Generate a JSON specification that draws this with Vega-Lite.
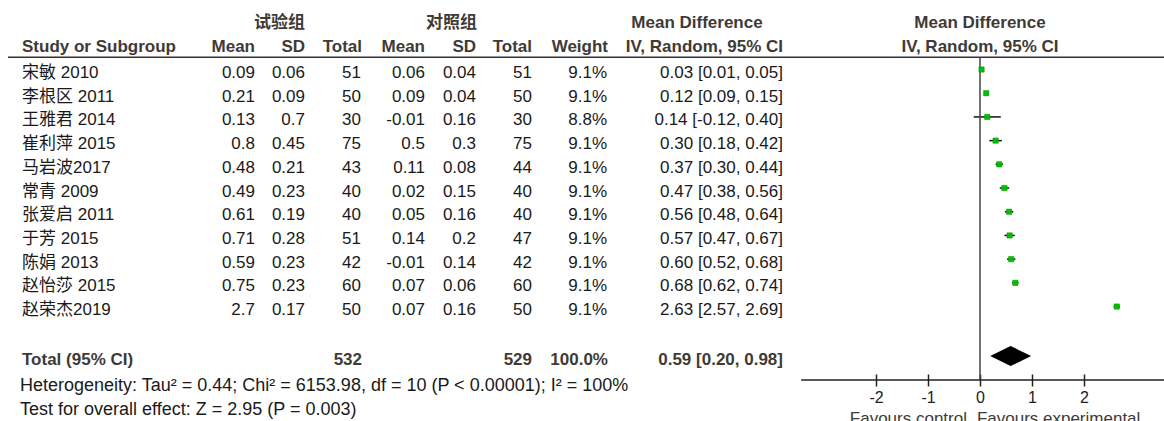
{
  "$schema": "https://vega.github.io/schema/vega-lite/v6.json",
  "padding": 0,
  "spacing": 0,
  "bounds": "flush",
  "data": {"values": [{}]},
  "datasets": {
    "studies": [
      {"row": 1, "study": "宋敏 2010", "exp_mean": 0.09, "exp_sd": 0.06, "exp_n": 51, "ctrl_mean": 0.06, "ctrl_sd": 0.04, "ctrl_n": 51, "weight": 0.091, "md": 0.03, "lo": 0.01, "hi": 0.05, "ci": "0.03 [0.01, 0.05]"},
      {"row": 2, "study": "李根区 2011", "exp_mean": 0.21, "exp_sd": 0.09, "exp_n": 50, "ctrl_mean": 0.09, "ctrl_sd": 0.04, "ctrl_n": 50, "weight": 0.091, "md": 0.12, "lo": 0.09, "hi": 0.15, "ci": "0.12 [0.09, 0.15]"},
      {"row": 3, "study": "王雅君 2014", "exp_mean": 0.13, "exp_sd": 0.7, "exp_n": 30, "ctrl_mean": -0.01, "ctrl_sd": 0.16, "ctrl_n": 30, "weight": 0.088, "md": 0.14, "lo": -0.12, "hi": 0.40, "ci": "0.14 [-0.12, 0.40]"},
      {"row": 4, "study": "崔利萍 2015", "exp_mean": 0.8, "exp_sd": 0.45, "exp_n": 75, "ctrl_mean": 0.5, "ctrl_sd": 0.3, "ctrl_n": 75, "weight": 0.091, "md": 0.30, "lo": 0.18, "hi": 0.42, "ci": "0.30 [0.18, 0.42]"},
      {"row": 5, "study": "马岩波2017", "exp_mean": 0.48, "exp_sd": 0.21, "exp_n": 43, "ctrl_mean": 0.11, "ctrl_sd": 0.08, "ctrl_n": 44, "weight": 0.091, "md": 0.37, "lo": 0.30, "hi": 0.44, "ci": "0.37 [0.30, 0.44]"},
      {"row": 6, "study": "常青 2009", "exp_mean": 0.49, "exp_sd": 0.23, "exp_n": 40, "ctrl_mean": 0.02, "ctrl_sd": 0.15, "ctrl_n": 40, "weight": 0.091, "md": 0.47, "lo": 0.38, "hi": 0.56, "ci": "0.47 [0.38, 0.56]"},
      {"row": 7, "study": "张爱启 2011", "exp_mean": 0.61, "exp_sd": 0.19, "exp_n": 40, "ctrl_mean": 0.05, "ctrl_sd": 0.16, "ctrl_n": 40, "weight": 0.091, "md": 0.56, "lo": 0.48, "hi": 0.64, "ci": "0.56 [0.48, 0.64]"},
      {"row": 8, "study": "于芳 2015", "exp_mean": 0.71, "exp_sd": 0.28, "exp_n": 51, "ctrl_mean": 0.14, "ctrl_sd": 0.2, "ctrl_n": 47, "weight": 0.091, "md": 0.57, "lo": 0.47, "hi": 0.67, "ci": "0.57 [0.47, 0.67]"},
      {"row": 9, "study": "陈娟 2013", "exp_mean": 0.59, "exp_sd": 0.23, "exp_n": 42, "ctrl_mean": -0.01, "ctrl_sd": 0.14, "ctrl_n": 42, "weight": 0.091, "md": 0.60, "lo": 0.52, "hi": 0.68, "ci": "0.60 [0.52, 0.68]"},
      {"row": 10, "study": "赵怡莎 2015", "exp_mean": 0.75, "exp_sd": 0.23, "exp_n": 60, "ctrl_mean": 0.07, "ctrl_sd": 0.06, "ctrl_n": 60, "weight": 0.091, "md": 0.68, "lo": 0.62, "hi": 0.74, "ci": "0.68 [0.62, 0.74]"},
      {"row": 11, "study": "赵荣杰2019", "exp_mean": 2.7, "exp_sd": 0.17, "exp_n": 50, "ctrl_mean": 0.07, "ctrl_sd": 0.16, "ctrl_n": 50, "weight": 0.091, "md": 2.63, "lo": 2.57, "hi": 2.69, "ci": "2.63 [2.57, 2.69]"}
    ],
    "total": [
      {"label": "Total (95% CI)", "n_exp": 532, "n_ctrl": 529, "weight": 1.0, "md": 0.59, "lo": 0.20, "hi": 0.98, "ci": "0.59 [0.20, 0.98]"}
    ]
  },
  "config": {
    "view": {"stroke": null},
    "text": {"font": "Liberation Sans, Noto Sans CJK SC", "fontSize": 17, "baseline": "middle", "fill": "#1a1a1a"}
  },
  "hconcat": [
    {
      "width": 800,
      "height": 421,
      "layer": [
        {"mark": {"type": "rule", "stroke": "#333333", "strokeWidth": 1.5},
         "encoding": {"x": {"datum": 8, "type": "quantitative", "scale": {"domain": [0, 800], "nice": false, "zero": false}, "axis": null}, "x2": {"datum": 800},
                      "y": {"datum": 0.33, "type": "quantitative", "scale": {"domain": [-2.08, 15.68], "nice": false, "zero": false, "reverse": true}, "axis": null}}},
        {"mark": {"type": "text", "text": "试验组", "align": "right", "fontWeight": "bold", "fill": "#403a36"},
         "encoding": {"x": {"datum": 305, "type": "quantitative", "axis": null}, "y": {"datum": -1.11, "type": "quantitative", "axis": null}}},
        {"mark": {"type": "text", "text": "对照组", "align": "right", "fontWeight": "bold", "fill": "#403a36"},
         "encoding": {"x": {"datum": 477, "type": "quantitative", "axis": null}, "y": {"datum": -1.11, "type": "quantitative", "axis": null}}},
        {"mark": {"type": "text", "text": "Mean Difference", "align": "center", "fontWeight": "bold", "fill": "#403a36"},
         "encoding": {"x": {"datum": 697, "type": "quantitative", "axis": null}, "y": {"datum": -1.11, "type": "quantitative", "axis": null}}},
        {"mark": {"type": "text", "text": "Study or Subgroup", "align": "left", "fontWeight": "bold", "fill": "#403a36"},
         "encoding": {"x": {"datum": 22, "type": "quantitative", "axis": null}, "y": {"datum": -0.1, "type": "quantitative", "axis": null}}},
        {"mark": {"type": "text", "text": "Mean", "align": "right", "fontWeight": "bold", "fill": "#403a36"},
         "encoding": {"x": {"datum": 255, "type": "quantitative", "axis": null}, "y": {"datum": -0.1, "type": "quantitative", "axis": null}}},
        {"mark": {"type": "text", "text": "SD", "align": "right", "fontWeight": "bold", "fill": "#403a36"},
         "encoding": {"x": {"datum": 305, "type": "quantitative", "axis": null}, "y": {"datum": -0.1, "type": "quantitative", "axis": null}}},
        {"mark": {"type": "text", "text": "Total", "align": "right", "fontWeight": "bold", "fill": "#403a36"},
         "encoding": {"x": {"datum": 362, "type": "quantitative", "axis": null}, "y": {"datum": -0.1, "type": "quantitative", "axis": null}}},
        {"mark": {"type": "text", "text": "Mean", "align": "right", "fontWeight": "bold", "fill": "#403a36"},
         "encoding": {"x": {"datum": 425, "type": "quantitative", "axis": null}, "y": {"datum": -0.1, "type": "quantitative", "axis": null}}},
        {"mark": {"type": "text", "text": "SD", "align": "right", "fontWeight": "bold", "fill": "#403a36"},
         "encoding": {"x": {"datum": 476, "type": "quantitative", "axis": null}, "y": {"datum": -0.1, "type": "quantitative", "axis": null}}},
        {"mark": {"type": "text", "text": "Total", "align": "right", "fontWeight": "bold", "fill": "#403a36"},
         "encoding": {"x": {"datum": 532, "type": "quantitative", "axis": null}, "y": {"datum": -0.1, "type": "quantitative", "axis": null}}},
        {"mark": {"type": "text", "text": "Weight", "align": "right", "fontWeight": "bold", "fill": "#403a36"},
         "encoding": {"x": {"datum": 608, "type": "quantitative", "axis": null}, "y": {"datum": -0.1, "type": "quantitative", "axis": null}}},
        {"mark": {"type": "text", "text": "IV, Random, 95% CI", "align": "right", "fontWeight": "bold", "fill": "#403a36"},
         "encoding": {"x": {"datum": 783, "type": "quantitative", "axis": null}, "y": {"datum": -0.1, "type": "quantitative", "axis": null}}},

        {"data": {"name": "studies"}, "mark": {"type": "text", "align": "left"},
         "encoding": {"x": {"datum": 22, "type": "quantitative", "axis": null}, "y": {"field": "row", "type": "quantitative", "axis": null}, "text": {"field": "study", "type": "nominal"}}},
        {"data": {"name": "studies"}, "mark": {"type": "text", "align": "right"},
         "encoding": {"x": {"datum": 255, "type": "quantitative", "axis": null}, "y": {"field": "row", "type": "quantitative", "axis": null}, "text": {"field": "exp_mean", "type": "nominal"}}},
        {"data": {"name": "studies"}, "mark": {"type": "text", "align": "right"},
         "encoding": {"x": {"datum": 305, "type": "quantitative", "axis": null}, "y": {"field": "row", "type": "quantitative", "axis": null}, "text": {"field": "exp_sd", "type": "nominal"}}},
        {"data": {"name": "studies"}, "mark": {"type": "text", "align": "right"},
         "encoding": {"x": {"datum": 361, "type": "quantitative", "axis": null}, "y": {"field": "row", "type": "quantitative", "axis": null}, "text": {"field": "exp_n", "type": "nominal"}}},
        {"data": {"name": "studies"}, "mark": {"type": "text", "align": "right"},
         "encoding": {"x": {"datum": 425, "type": "quantitative", "axis": null}, "y": {"field": "row", "type": "quantitative", "axis": null}, "text": {"field": "ctrl_mean", "type": "nominal"}}},
        {"data": {"name": "studies"}, "mark": {"type": "text", "align": "right"},
         "encoding": {"x": {"datum": 476, "type": "quantitative", "axis": null}, "y": {"field": "row", "type": "quantitative", "axis": null}, "text": {"field": "ctrl_sd", "type": "nominal"}}},
        {"data": {"name": "studies"}, "mark": {"type": "text", "align": "right"},
         "encoding": {"x": {"datum": 532, "type": "quantitative", "axis": null}, "y": {"field": "row", "type": "quantitative", "axis": null}, "text": {"field": "ctrl_n", "type": "nominal"}}},
        {"data": {"name": "studies"}, "mark": {"type": "text", "align": "right"},
         "encoding": {"x": {"datum": 607, "type": "quantitative", "axis": null}, "y": {"field": "row", "type": "quantitative", "axis": null}, "text": {"field": "weight", "type": "quantitative", "format": ".1%"}}},
        {"data": {"name": "studies"}, "mark": {"type": "text", "align": "right"},
         "encoding": {"x": {"datum": 783, "type": "quantitative", "axis": null}, "y": {"field": "row", "type": "quantitative", "axis": null}, "text": {"field": "ci", "type": "nominal"}}},

        {"data": {"name": "total"}, "mark": {"type": "text", "align": "left", "fontWeight": "bold", "fill": "#403a36"},
         "encoding": {"x": {"datum": 22, "type": "quantitative", "axis": null}, "y": {"datum": 13.11, "type": "quantitative", "axis": null}, "text": {"field": "label", "type": "nominal"}}},
        {"data": {"name": "total"}, "mark": {"type": "text", "align": "right", "fontWeight": "bold", "fill": "#403a36"},
         "encoding": {"x": {"datum": 362, "type": "quantitative", "axis": null}, "y": {"datum": 13.11, "type": "quantitative", "axis": null}, "text": {"field": "n_exp", "type": "nominal"}}},
        {"data": {"name": "total"}, "mark": {"type": "text", "align": "right", "fontWeight": "bold", "fill": "#403a36"},
         "encoding": {"x": {"datum": 532, "type": "quantitative", "axis": null}, "y": {"datum": 13.11, "type": "quantitative", "axis": null}, "text": {"field": "n_ctrl", "type": "nominal"}}},
        {"data": {"name": "total"}, "mark": {"type": "text", "align": "right", "fontWeight": "bold", "fill": "#403a36"},
         "encoding": {"x": {"datum": 608, "type": "quantitative", "axis": null}, "y": {"datum": 13.11, "type": "quantitative", "axis": null}, "text": {"field": "weight", "type": "quantitative", "format": ".1%"}}},
        {"data": {"name": "total"}, "mark": {"type": "text", "align": "right", "fontWeight": "bold", "fill": "#403a36"},
         "encoding": {"x": {"datum": 783, "type": "quantitative", "axis": null}, "y": {"datum": 13.11, "type": "quantitative", "axis": null}, "text": {"field": "ci", "type": "nominal"}}},
        {"mark": {"type": "text", "text": "Heterogeneity: Tau² = 0.44; Chi² = 6153.98, df = 10 (P < 0.00001); I² = 100%", "align": "left", "fontSize": 18},
         "encoding": {"x": {"datum": 20, "type": "quantitative", "axis": null}, "y": {"datum": 14.2, "type": "quantitative", "axis": null}}},
        {"mark": {"type": "text", "text": "Test for overall effect: Z = 2.95 (P = 0.003)", "align": "left", "fontSize": 18},
         "encoding": {"x": {"datum": 20, "type": "quantitative", "axis": null}, "y": {"datum": 15.2, "type": "quantitative", "axis": null}}}
      ]
    },
    {
      "width": 364,
      "height": 421,
      "layer": [
        {"data": {"name": "studies"}, "mark": {"type": "rule", "stroke": "#111111", "strokeWidth": 1.5, "yOffset": -3.5},
         "encoding": {
           "x": {"field": "lo", "type": "quantitative", "scale": {"domain": [-3.4615, 3.5385], "nice": false, "zero": false},
                 "axis": {"values": [-2, -1, 0, 1, 2], "title": null, "domain": false, "grid": false, "offset": -47, "tickSize": 12, "tickColor": "#222222", "tickWidth": 1.5, "labelPadding": 3, "labelFontSize": 16, "labelFont": "Liberation Sans", "labelColor": "#222222", "labelExpr": "toString(datum.value)", "labelFlush": false, "labelOverlap": false}},
           "x2": {"field": "hi"},
           "y": {"field": "row", "type": "quantitative", "scale": {"domain": [-2.08, 15.68], "nice": false, "zero": false, "reverse": true}, "axis": null}}},
        {"mark": {"type": "rule", "stroke": "#333333", "strokeWidth": 1.5},
         "encoding": {"x": {"datum": -3.4615, "type": "quantitative"}, "x2": {"datum": 3.5385}, "y": {"datum": 0.33, "type": "quantitative", "axis": null}}},
        {"mark": {"type": "rule", "stroke": "#444444", "strokeWidth": 1.5},
         "encoding": {"x": {"datum": 0, "type": "quantitative"}, "y": {"datum": 0.33, "type": "quantitative", "axis": null}, "y2": {"datum": 13.95}}},
        {"mark": {"type": "rule", "stroke": "#222222", "strokeWidth": 1.5},
         "encoding": {"x": {"datum": -3.44, "type": "quantitative"}, "x2": {"datum": 3.5385}, "y": {"datum": 13.95, "type": "quantitative", "axis": null}}},
        {"data": {"name": "studies"}, "mark": {"type": "point", "shape": "square", "filled": true, "fill": "#00c000", "stroke": "#009000", "strokeWidth": 0.5, "size": 28, "opacity": 1, "yOffset": -3.5},
         "encoding": {"x": {"field": "md", "type": "quantitative"}, "y": {"field": "row", "type": "quantitative", "axis": null}}},
        {"data": {"name": "total"}, "mark": {"type": "point", "shape": "M-1,0L0,-0.49L1,0L0,0.49Z", "filled": true, "fill": "#000000", "size": 1681, "opacity": 1, "yOffset": -4},
         "encoding": {"x": {"field": "md", "type": "quantitative"}, "y": {"datum": 13.11, "type": "quantitative", "axis": null}}},
        {"mark": {"type": "text", "text": "Mean Difference", "align": "center", "fontWeight": "bold", "fill": "#403a36"},
         "encoding": {"x": {"datum": 0, "type": "quantitative"}, "y": {"datum": -1.11, "type": "quantitative", "axis": null}}},
        {"mark": {"type": "text", "text": "IV, Random, 95% CI", "align": "center", "fontWeight": "bold", "fill": "#403a36"},
         "encoding": {"x": {"datum": 0, "type": "quantitative"}, "y": {"datum": -0.1, "type": "quantitative", "axis": null}}},
        {"mark": {"type": "text", "text": "Favours control", "align": "right", "fill": "#403a36"},
         "encoding": {"x": {"datum": -0.25, "type": "quantitative"}, "y": {"datum": 15.6, "type": "quantitative", "axis": null}}},
        {"mark": {"type": "text", "text": "Favours experimental", "align": "left", "fill": "#403a36"},
         "encoding": {"x": {"datum": -0.06, "type": "quantitative"}, "y": {"datum": 15.6, "type": "quantitative", "axis": null}}}
      ]
    }
  ]
}
